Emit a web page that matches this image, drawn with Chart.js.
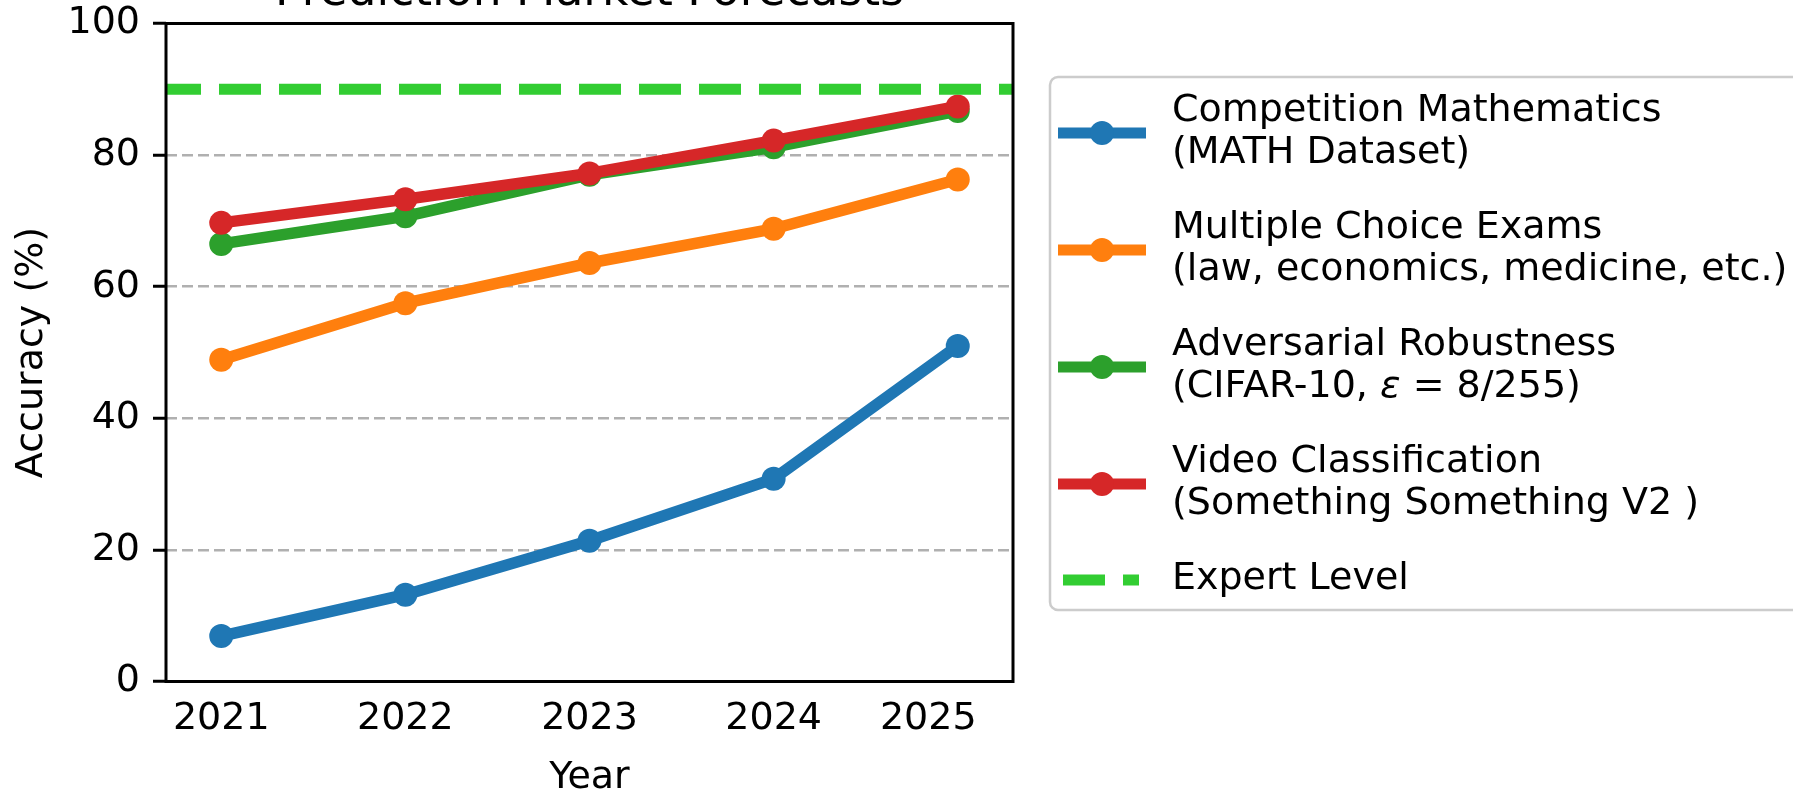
<!DOCTYPE html>
<html>
<head>
<meta charset="utf-8">
<script src="https://cdn.jsdelivr.net/npm/chart.js@4.4.1/dist/chart.umd.min.js"></script>
<style>
  html, body { margin: 0; padding: 0; background: #fff; }
  #wrap { position: relative; width: 1793px; height: 792px; }
</style>
</head>
<body>
<div id="wrap"><canvas id="forecastChart"></canvas></div>
<script>
// Chart data
const years = [2021, 2022, 2023, 2024, 2025];
const mathAcc = [6.9, 13.2, 21.4, 30.8, 51.0];
const examAcc = [48.9, 57.5, 63.6, 68.8, 76.3];
const advAcc = [66.5, 70.7, 77.0, 81.2, 86.7];
const videoAcc = [69.7, 73.3, 77.2, 82.2, 87.4];
const expertLevel = 90;

// x tick positions / labels as they sit under the axis
const tickPositions = [2021, 2022, 2023, 2024, 2024.84];
const tickLabels = ['2021', '2022', '2023', '2024', '2025'];
const yTicks = [0, 20, 40, 60, 80, 100];

const seriesLines = [
  ['Competition Mathematics', '(MATH Dataset)'],
  ['Multiple Choice Exams', '(law, economics, medicine, etc.)'],
  ['Adversarial Robustness', '(CIFAR-10, ε = 8/255)'],
  ['Video Classification', '(Something Something V2 )'],
  ['Expert Level'],
];

const xMin = 2020.7;
const xMax = 2025.3;

Chart.defaults.font.family = "'DejaVu Sans', sans-serif";
Chart.defaults.font.size = 38;
Chart.defaults.color = '#000';

const FONT = "'DejaVu Sans', sans-serif";

function pts(values) {
  return years.map((yr, i) => ({ x: yr, y: values[i] }));
}

function seriesDataset(label, values, color, order) {
  return {
    label: label,
    data: pts(values),
    borderColor: color,
    backgroundColor: color,
    borderWidth: 11.5,
    borderJoinStyle: 'round',
    pointRadius: 12,
    pointHoverRadius: 12,
    pointBorderWidth: 0,
    pointBackgroundColor: color,
    tension: 0,
    order: order,
  };
}

// title, frame and legend like the matplotlib figure
const figurePlugin = {
  id: 'figure',
  afterDatasetsDraw(chart) {
    const { ctx, chartArea: a } = chart;
    ctx.save();
    ctx.strokeStyle = '#000';
    ctx.lineWidth = 3;
    ctx.strokeRect(a.left, a.top, a.right - a.left, a.bottom - a.top);
    ctx.restore();
  },
  afterDraw(chart) {
    const { ctx, chartArea: a } = chart;
    ctx.save();

    // title (mostly above the page)
    ctx.fillStyle = '#000';
    ctx.font = '45.6px ' + FONT;
    ctx.textAlign = 'center';
    ctx.textBaseline = 'alphabetic';
    ctx.fillText('Prediction Market Forecasts', (a.left + a.right) / 2, 4.5);

    // legend box
    const bx = 1050, by = 77, bw = 800, bh = 533, r = 8;
    ctx.beginPath();
    ctx.moveTo(bx + r, by);
    ctx.lineTo(bx + bw, by);
    ctx.lineTo(bx + bw, by + bh);
    ctx.lineTo(bx + r, by + bh);
    ctx.arcTo(bx, by + bh, bx, by + bh - r, r);
    ctx.lineTo(bx, by + r);
    ctx.arcTo(bx, by, bx + r, by, r);
    ctx.closePath();
    ctx.fillStyle = 'rgba(255,255,255,0.85)';
    ctx.fill();
    ctx.strokeStyle = '#cccccc';
    ctx.lineWidth = 2.5;
    ctx.stroke();

    let top = 89.5;
    const lineGap = 42;
    chart.data.datasets.forEach((ds, i) => {
      const lines = seriesLines[i];
      const hy = top + 21 * lines.length + 1.5;
      ctx.strokeStyle = ds.borderColor;
      ctx.lineWidth = 11;
      ctx.lineCap = 'butt';
      ctx.beginPath();
      if (ds.borderDash) {
        ctx.setLineDash(ds.borderDash);
        ctx.moveTo(1063, hy);
        ctx.lineTo(1139, hy);
        ctx.stroke();
        ctx.setLineDash([]);
      } else {
        ctx.moveTo(1058, hy);
        ctx.lineTo(1146, hy);
        ctx.stroke();
        ctx.beginPath();
        ctx.arc(1102, hy, 12, 0, Math.PI * 2);
        ctx.fillStyle = ds.borderColor;
        ctx.fill();
      }
      ctx.fillStyle = '#000';
      ctx.textAlign = 'left';
      ctx.textBaseline = 'alphabetic';
      lines.forEach((txt, j) => {
        const ty = top + lineGap * j + 31;
        const parts = txt.split('ε');
        let x = 1172;
        parts.forEach((p, k) => {
          ctx.font = '38px ' + FONT;
          ctx.fillText(p, x, ty);
          x += ctx.measureText(p).width;
          if (k < parts.length - 1) {
            ctx.font = 'italic 38px ' + FONT;
            ctx.fillText('ε', x, ty);
            x += ctx.measureText('ε').width;
          }
        });
      });
      top += lines.length * lineGap + 33;
    });
    ctx.restore();
  },
};

new Chart(document.getElementById('forecastChart'), {
  type: 'line',
  data: {
    datasets: [
      seriesDataset(seriesLines[0].join(' '), mathAcc, '#1f77b4', 5),
      seriesDataset(seriesLines[1].join(' '), examAcc, '#ff7f0e', 4),
      seriesDataset(seriesLines[2].join(' '), advAcc, '#2ca02c', 3),
      seriesDataset(seriesLines[3].join(' '), videoAcc, '#d62728', 2),
      {
        label: seriesLines[4][0],
        data: [{ x: xMin, y: expertLevel }, { x: xMax, y: expertLevel }],
        borderColor: '#32cd32',
        backgroundColor: '#32cd32',
        borderWidth: 11,
        borderDash: [42, 18],
        borderDashOffset: 7,
        borderCapStyle: 'butt',
        pointRadius: 0,
        pointHoverRadius: 0,
        clip: 0,
        order: 1,
      },
    ],
  },
  options: {
    responsive: true,
    maintainAspectRatio: false,
    animation: false,
    layout: {
      padding: { left: 0, top: 23.5, right: 780, bottom: 0 },
    },
    plugins: {
      legend: { display: false },
      tooltip: { enabled: false },
      title: { display: false },
    },
    scales: {
      x: {
        type: 'linear',
        min: xMin,
        max: xMax,
        afterBuildTicks: (axis) => {
          axis.ticks = tickPositions.map((v) => ({ value: v }));
        },
        afterFit: (scale) => {
          scale.height = 110.5;
          scale.paddingLeft = 0;
          scale.paddingRight = 0;
        },
        ticks: {
          autoSkip: false,
          maxRotation: 0,
          padding: 15,
          color: '#000',
          font: { size: 38 },
          callback: (value, index) => tickLabels[index],
        },
        grid: { display: false, drawTicks: false },
        border: { display: false },
        title: {
          display: true,
          text: 'Year',
          color: '#000',
          font: { size: 38 },
          padding: { top: 0, bottom: -9 },
        },
      },
      y: {
        min: 0,
        max: 100,
        afterBuildTicks: (axis) => {
          axis.ticks = yTicks.map((v) => ({ value: v }));
        },
        afterFit: (scale) => {
          scale.width = 166;
          scale.paddingTop = 0;
          scale.paddingBottom = 0;
        },
        ticks: {
          padding: 13,
          color: '#000',
          font: { size: 38 },
        },
        grid: {
          color: (c) => (c.tick && (c.tick.value === 0 || c.tick.value === 100)) ? 'rgba(0,0,0,0)' : '#b0b0b0',
          lineWidth: 2.5,
          tickColor: '#000',
          tickLength: 13,
          tickWidth: 3,
        },
        border: { display: false, dash: [11, 5] },
        title: {
          display: true,
          text: 'Accuracy (%)',
          color: '#000',
          font: { size: 38 },
          padding: { top: 9, bottom: 0 },
        },
      },
    },
  },
  plugins: [figurePlugin],
});
</script>
</body>
</html>
